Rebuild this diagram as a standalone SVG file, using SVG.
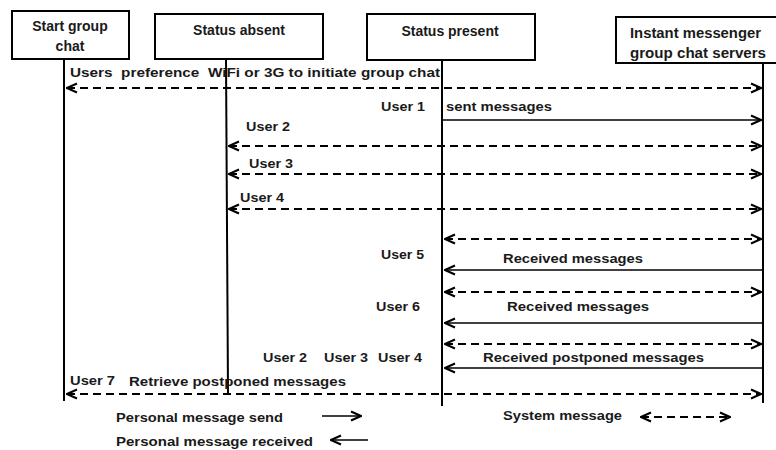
<svg xmlns="http://www.w3.org/2000/svg" width="776" height="450" viewBox="0 0 776 450">
<style>
.box{fill:#fff;stroke:#000;stroke-width:2}
.life{stroke:#000;stroke-width:2;fill:none}
.t{font-family:"Liberation Sans",Arial,sans-serif;font-weight:bold;font-size:13.5px;fill:#1a1a1a}
.bt{font-family:"Liberation Sans",Arial,sans-serif;font-weight:bold;font-size:14px;fill:#1a1a1a}
.solid{stroke:#000;stroke-width:1.6;fill:none}
.dash{stroke:#000;stroke-width:1.8;fill:none;stroke-dasharray:8 5}
</style>
<defs>
<marker id="ah" viewBox="0 0 12 12" refX="11" refY="6" markerWidth="12" markerHeight="12" markerUnits="userSpaceOnUse" orient="auto-start-reverse">
<polyline points="1,1.5 11,6 1,10.5" fill="none" stroke="#000" stroke-width="2"/>
</marker>
</defs>
<g id="node-start"><rect class="box" x="12" y="11" width="117" height="48"/><text class="bt" x="70" y="31" text-anchor="middle">Start group</text><text class="bt" x="70" y="51" text-anchor="middle">chat</text></g>
<g id="node-absent"><rect class="box" x="155" y="14" width="168" height="45"/><text class="bt" x="239" y="35" text-anchor="middle">Status absent</text></g>
<g id="node-present"><rect class="box" x="367" y="14" width="168" height="46"/><text class="bt" x="450" y="36" text-anchor="middle">Status present</text></g>
<g id="node-servers"><rect class="box" x="616" y="17" width="180" height="46"/><text class="bt" x="630" y="38" textLength="131" lengthAdjust="spacingAndGlyphs">Instant messenger</text><text class="bt" x="630" y="58" textLength="136" lengthAdjust="spacingAndGlyphs">group chat servers</text></g>
<g id="lifelines">
<line class="life" x1="64" y1="59" x2="64" y2="401"/>
<line class="life" x1="226" y1="59" x2="228" y2="393"/>
<line class="life" x1="442" y1="60" x2="442" y2="406"/>
<line class="life" x1="763" y1="63" x2="763" y2="403"/>
</g>
<g id="connectors">
<line class="dash" x1="67" y1="88" x2="761" y2="88" marker-start="url(#ah)" marker-end="url(#ah)"/>
<line class="solid" x1="443" y1="120" x2="761" y2="120" marker-end="url(#ah)"/>
<line class="dash" x1="229" y1="146" x2="761" y2="146" marker-start="url(#ah)" marker-end="url(#ah)"/>
<line class="dash" x1="229" y1="174" x2="761" y2="174" marker-start="url(#ah)" marker-end="url(#ah)"/>
<line class="dash" x1="229" y1="209" x2="761" y2="209" marker-start="url(#ah)" marker-end="url(#ah)"/>
<line class="dash" x1="445" y1="239" x2="761" y2="239" marker-start="url(#ah)" marker-end="url(#ah)"/>
<line class="solid" x1="762" y1="270" x2="445" y2="270" marker-end="url(#ah)"/>
<line class="dash" x1="445" y1="292" x2="761" y2="292" marker-start="url(#ah)" marker-end="url(#ah)"/>
<line class="solid" x1="762" y1="323" x2="445" y2="323" marker-end="url(#ah)"/>
<line class="dash" x1="445" y1="344" x2="761" y2="344" marker-start="url(#ah)" marker-end="url(#ah)"/>
<line class="solid" x1="762" y1="368" x2="445" y2="368" marker-end="url(#ah)"/>
<line class="dash" x1="67" y1="394" x2="761" y2="394" marker-start="url(#ah)" marker-end="url(#ah)"/>
</g>
<g id="labels">
<text class="t" x="70" y="77" textLength="370" lengthAdjust="spacingAndGlyphs">Users&#160; preference&#160; WiFi or 3G to initiate group chat</text>
<text class="t" x="381" y="111" textLength="44" lengthAdjust="spacingAndGlyphs">User 1</text>
<text class="t" x="446" y="111" textLength="106" lengthAdjust="spacingAndGlyphs">sent messages</text>
<text class="t" x="246" y="131" textLength="44" lengthAdjust="spacingAndGlyphs">User 2</text>
<text class="t" x="249" y="168" textLength="44" lengthAdjust="spacingAndGlyphs">User 3</text>
<text class="t" x="240" y="202" textLength="44" lengthAdjust="spacingAndGlyphs">User 4</text>
<text class="t" x="381" y="259" textLength="43" lengthAdjust="spacingAndGlyphs">User 5</text>
<text class="t" x="503" y="263" textLength="140" lengthAdjust="spacingAndGlyphs">Received messages</text>
<text class="t" x="376" y="311" textLength="44" lengthAdjust="spacingAndGlyphs">User 6</text>
<text class="t" x="507" y="311" textLength="142" lengthAdjust="spacingAndGlyphs">Received messages</text>
<text class="t" x="263" y="362" textLength="44" lengthAdjust="spacingAndGlyphs">User 2</text>
<text class="t" x="324" y="362" textLength="44" lengthAdjust="spacingAndGlyphs">User 3</text>
<text class="t" x="378" y="362" textLength="44" lengthAdjust="spacingAndGlyphs">User 4</text>
<text class="t" x="483" y="362" textLength="221" lengthAdjust="spacingAndGlyphs">Received postponed messages</text>
<text class="t" x="70" y="385" textLength="45" lengthAdjust="spacingAndGlyphs">User 7</text>
<text class="t" x="129" y="386" textLength="217" lengthAdjust="spacingAndGlyphs">Retrieve postponed messages</text>
</g>
<g id="legend">
<text class="t" x="116" y="422" textLength="167" lengthAdjust="spacingAndGlyphs">Personal message send</text>
<line class="solid" x1="322" y1="416" x2="361" y2="416" marker-end="url(#ah)"/>
<text class="t" x="116" y="446" textLength="197" lengthAdjust="spacingAndGlyphs">Personal message received</text>
<line class="solid" x1="368" y1="440" x2="331" y2="440" marker-end="url(#ah)"/>
<text class="t" x="503" y="420" textLength="119" lengthAdjust="spacingAndGlyphs">System message</text>
<line class="dash" x1="641" y1="417" x2="730" y2="417" marker-start="url(#ah)" marker-end="url(#ah)" stroke-dasharray="7 6"/>
</g>
</svg>
